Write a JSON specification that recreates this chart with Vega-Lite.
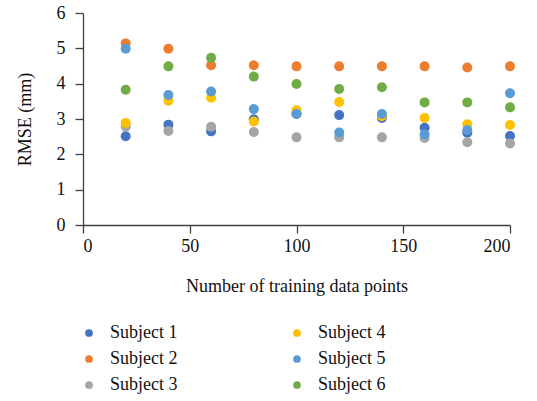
{
  "$schema": "https://vega.github.io/schema/vega-lite/v6.json",
  "width": 427,
  "height": 212,
  "autosize": {"type": "none"},
  "padding": {"left": 83, "top": 13, "right": 27, "bottom": 176},
  "background": "white",
  "config": {
    "view": {"stroke": null},
    "font": "Liberation Serif",
    "axis": {"grid": false, "domainColor": "#404040", "tickColor": "#404040", "labelColor": "#111", "titleColor": "#111", "labelFont": "Liberation Serif", "titleFont": "Liberation Serif", "labelFontSize": 18, "titleFontSize": 18, "titleFontWeight": "normal", "tickSize": 8, "domainWidth": 1.3, "tickWidth": 1.3}
  },
  "data": {
    "values": [
      {"n": 20, "s": "Subject 1", "rmse": 2.51}, {"n": 20, "s": "Subject 2", "rmse": 5.14}, {"n": 20, "s": "Subject 3", "rmse": 2.78}, {"n": 20, "s": "Subject 4", "rmse": 2.89}, {"n": 20, "s": "Subject 5", "rmse": 4.99}, {"n": 20, "s": "Subject 6", "rmse": 3.83},
      {"n": 40, "s": "Subject 1", "rmse": 2.84}, {"n": 40, "s": "Subject 2", "rmse": 4.99}, {"n": 40, "s": "Subject 3", "rmse": 2.66}, {"n": 40, "s": "Subject 4", "rmse": 3.52}, {"n": 40, "s": "Subject 5", "rmse": 3.68}, {"n": 40, "s": "Subject 6", "rmse": 4.49},
      {"n": 60, "s": "Subject 1", "rmse": 2.65}, {"n": 60, "s": "Subject 2", "rmse": 4.52}, {"n": 60, "s": "Subject 3", "rmse": 2.78}, {"n": 60, "s": "Subject 4", "rmse": 3.6}, {"n": 60, "s": "Subject 5", "rmse": 3.78}, {"n": 60, "s": "Subject 6", "rmse": 4.73},
      {"n": 80, "s": "Subject 1", "rmse": 2.99}, {"n": 80, "s": "Subject 2", "rmse": 4.52}, {"n": 80, "s": "Subject 3", "rmse": 2.63}, {"n": 80, "s": "Subject 4", "rmse": 2.93}, {"n": 80, "s": "Subject 5", "rmse": 3.28}, {"n": 80, "s": "Subject 6", "rmse": 4.2},
      {"n": 100, "s": "Subject 1", "rmse": 3.15}, {"n": 100, "s": "Subject 2", "rmse": 4.49}, {"n": 100, "s": "Subject 3", "rmse": 2.48}, {"n": 100, "s": "Subject 4", "rmse": 3.25}, {"n": 100, "s": "Subject 5", "rmse": 3.14}, {"n": 100, "s": "Subject 6", "rmse": 3.99},
      {"n": 120, "s": "Subject 1", "rmse": 3.11}, {"n": 120, "s": "Subject 2", "rmse": 4.49}, {"n": 120, "s": "Subject 3", "rmse": 2.48}, {"n": 120, "s": "Subject 4", "rmse": 3.48}, {"n": 120, "s": "Subject 5", "rmse": 2.62}, {"n": 120, "s": "Subject 6", "rmse": 3.85},
      {"n": 140, "s": "Subject 1", "rmse": 3.03}, {"n": 140, "s": "Subject 2", "rmse": 4.49}, {"n": 140, "s": "Subject 3", "rmse": 2.48}, {"n": 140, "s": "Subject 4", "rmse": 3.08}, {"n": 140, "s": "Subject 5", "rmse": 3.14}, {"n": 140, "s": "Subject 6", "rmse": 3.9},
      {"n": 160, "s": "Subject 1", "rmse": 2.75}, {"n": 160, "s": "Subject 2", "rmse": 4.49}, {"n": 160, "s": "Subject 3", "rmse": 2.46}, {"n": 160, "s": "Subject 4", "rmse": 3.03}, {"n": 160, "s": "Subject 5", "rmse": 2.57}, {"n": 160, "s": "Subject 6", "rmse": 3.47},
      {"n": 180, "s": "Subject 1", "rmse": 2.61}, {"n": 180, "s": "Subject 2", "rmse": 4.46}, {"n": 180, "s": "Subject 3", "rmse": 2.34}, {"n": 180, "s": "Subject 4", "rmse": 2.85}, {"n": 180, "s": "Subject 5", "rmse": 2.69}, {"n": 180, "s": "Subject 6", "rmse": 3.47},
      {"n": 200, "s": "Subject 1", "rmse": 2.52}, {"n": 200, "s": "Subject 2", "rmse": 4.49}, {"n": 200, "s": "Subject 3", "rmse": 2.31}, {"n": 200, "s": "Subject 4", "rmse": 2.83}, {"n": 200, "s": "Subject 5", "rmse": 3.73}, {"n": 200, "s": "Subject 6", "rmse": 3.33}
    ]
  },
  "mark": {"type": "point", "filled": true, "opacity": 1, "size": 100},
  "encoding": {
    "x": {"field": "n", "type": "quantitative", "scale": {"domain": [0, 200], "nice": false}, "axis": {"values": [0, 50, 100, 150, 200], "title": "Number of training data points", "titlePadding": 22, "labelPadding": 4}},
    "y": {"field": "rmse", "type": "quantitative", "scale": {"domain": [0, 6], "nice": false}, "axis": {"values": [0, 1, 2, 3, 4, 5, 6], "title": "RMSE (mm)", "titlePadding": 22, "labelPadding": 10}},
    "color": {
      "field": "s", "type": "nominal",
      "scale": {"domain": ["Subject 1", "Subject 2", "Subject 3", "Subject 4", "Subject 5", "Subject 6"], "range": ["#4472C4", "#ED7D31", "#A5A5A5", "#FFC000", "#5B9BD5", "#70AD47"]},
      "legend": {"title": null, "orient": "none", "legendX": -3, "legendY": 311, "direction": "vertical", "columns": 2, "columnPadding": 110, "rowPadding": 8, "labelFont": "Liberation Serif", "labelFontSize": 18, "labelColor": "#111", "symbolType": "circle", "symbolSize": 60, "labelOffset": 12}
    }
  }
}
